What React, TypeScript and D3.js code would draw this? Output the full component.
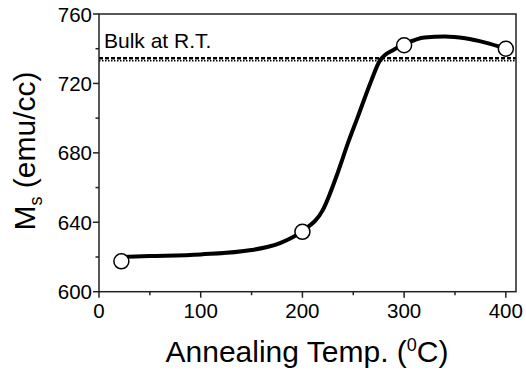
import React, { useEffect, useRef } from 'react';
import * as d3 from 'd3';

// measured points
const temps = [22, 200, 300, 400];
const msValues = [617.5, 634.5, 742, 740];

// fitted curve
const fitT = [22, 50, 100, 150, 178, 200, 220, 235, 245, 254, 268, 276, 290, 300, 320, 340, 360, 380, 400];
const fitMs = [620, 620.5, 621.5, 624, 628, 635, 647, 669, 686, 700, 722, 733, 739.5, 742.5, 746.5, 747, 746, 743.5, 740];

// bulk value at room temperature (drawn as a dashed + dotted pair)
const bulkDashed = 734.5;
const bulkDotted = 733;

const xTicks = [0, 100, 200, 300, 400];
const xMinor = [50, 150, 250, 350];
const yTicks = [600, 640, 680, 720, 760];
const yMinor = [620, 660, 700, 740];

const W = 526;
const H = 378;
const left = 99, right = 516, top = 14, bottom = 291.7;
const FONT = '"Liberation Sans", Arial, sans-serif';

export default function App() {
  const ref = useRef<SVGSVGElement>(null);

  useEffect(() => {
    const svg = d3.select(ref.current);
    svg.selectAll('*').remove();

    const x = d3.scaleLinear().domain([0, 410]).range([left, right]);
    const y = d3.scaleLinear().domain([600, 760]).range([bottom, top]);

    // bulk lines
    svg.append('line')
      .attr('x1', x(0)).attr('x2', x(410))
      .attr('y1', y(bulkDashed)).attr('y2', y(bulkDashed))
      .attr('stroke', '#000').attr('stroke-width', 2.5)
      .attr('stroke-dasharray', '4,2');
    svg.append('line')
      .attr('x1', x(0)).attr('x2', x(410))
      .attr('y1', y(bulkDotted)).attr('y2', y(bulkDotted))
      .attr('stroke', '#000').attr('stroke-width', 1.5)
      .attr('stroke-dasharray', '1.5,1.5');

    svg.append('text')
      .attr('x', 104).attr('y', 48)
      .attr('font-family', FONT).attr('font-size', 21)
      .text('Bulk at R.T.');

    // fit curve
    const line = d3.line<number>()
      .x((d, i) => x(fitT[i]))
      .y(d => y(d))
      .curve(d3.curveMonotoneX);
    svg.append('path')
      .attr('d', line(fitMs))
      .attr('fill', 'none')
      .attr('stroke', '#000')
      .attr('stroke-width', 4);

    // points
    svg.selectAll('circle.pt')
      .data(msValues)
      .enter()
      .append('circle')
      .attr('class', 'pt')
      .attr('cx', (d, i) => x(temps[i]))
      .attr('cy', d => y(d))
      .attr('r', 7.5)
      .attr('fill', '#fff')
      .attr('stroke', '#000')
      .attr('stroke-width', 1.5);

    // frame
    svg.append('rect')
      .attr('x', left).attr('y', top)
      .attr('width', right - left).attr('height', bottom - top)
      .attr('fill', 'none').attr('stroke', '#222').attr('stroke-width', 1.5);

    // bottom axis
    const gx = svg.append('g');
    gx.selectAll('line.maj').data(xTicks).enter().append('line')
      .attr('x1', d => x(d)).attr('x2', d => x(d))
      .attr('y1', bottom).attr('y2', bottom + 6)
      .attr('stroke', '#222').attr('stroke-width', 1.5);
    gx.selectAll('line.min').data(xMinor).enter().append('line')
      .attr('x1', d => x(d)).attr('x2', d => x(d))
      .attr('y1', bottom).attr('y2', bottom + 3.5)
      .attr('stroke', '#222').attr('stroke-width', 1.5);
    gx.selectAll('text').data(xTicks).enter().append('text')
      .attr('x', d => x(d)).attr('y', bottom + 26.5)
      .attr('text-anchor', 'middle')
      .attr('font-family', FONT).attr('font-size', 20.5)
      .text(d => d);

    // left axis
    const gy = svg.append('g');
    gy.selectAll('line.maj').data(yTicks).enter().append('line')
      .attr('x1', left - 6).attr('x2', left)
      .attr('y1', d => y(d)).attr('y2', d => y(d))
      .attr('stroke', '#222').attr('stroke-width', 1.5);
    gy.selectAll('line.min').data(yMinor).enter().append('line')
      .attr('x1', left - 3.5).attr('x2', left)
      .attr('y1', d => y(d)).attr('y2', d => y(d))
      .attr('stroke', '#222').attr('stroke-width', 1.5);
    gy.selectAll('text').data(yTicks).enter().append('text')
      .attr('x', left - 7).attr('y', d => y(d) + 7.5)
      .attr('text-anchor', 'end')
      .attr('font-family', FONT).attr('font-size', 20.5)
      .text(d => d);

    // x title
    const xt = svg.append('text')
      .attr('x', 307).attr('y', 362)
      .attr('text-anchor', 'middle')
      .attr('font-family', FONT).attr('font-size', 30);
    xt.append('tspan').text('Annealing Temp. (');
    xt.append('tspan').attr('dy', -11).attr('font-size', 18).text('0');
    xt.append('tspan').attr('dy', 11).text('C)');

    // y title
    const yt = svg.append('text')
      .attr('transform', `translate(35, 151) rotate(-90)`)
      .attr('text-anchor', 'middle')
      .attr('font-family', FONT).attr('font-size', 30);
    yt.append('tspan').text('M');
    yt.append('tspan').attr('dy', 7).attr('font-size', 18).text('s');
    yt.append('tspan').attr('dy', -7).text(' (emu/cc)');
  }, []);

  return <svg ref={ref} width={W} height={H} style={{ position: 'absolute', left: 0, top: 0 }} />;
}
